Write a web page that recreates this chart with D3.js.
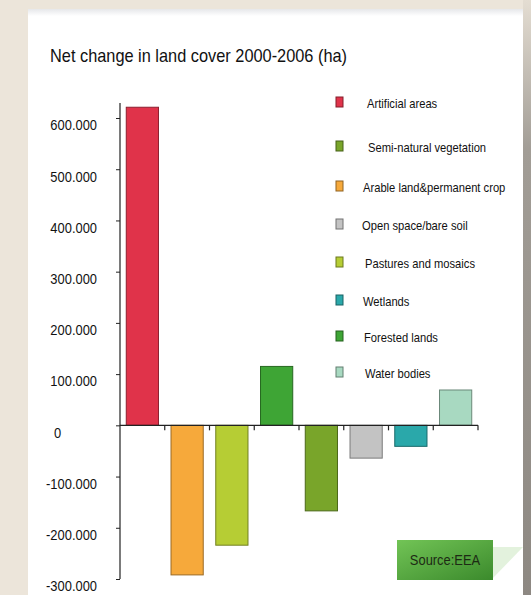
<!DOCTYPE html>
<html>
<head>
<meta charset="utf-8">
<script src="https://cdn.jsdelivr.net/npm/d3@7"></script>
<style>
  html, body { margin: 0; padding: 0; background: #ece5da; }
  svg { display: block; }
</style>
</head>
<body>
<div id="chart"></div>
<script>
// categories in bar order (left to right)
const categories = ["Artificial areas", "Arable land&permanent crop", "Pastures and mosaics",
  "Forested lands", "Semi-natural vegetation", "Open space/bare soil", "Wetlands", "Water bodies"];
// net change in ha
const values = [621000, -292000, -234000, 115000, -167000, -64000, -41000, 69000];
const colors = ["#e0334a", "#f6a93b", "#b6cd34", "#3ea535", "#79a52a", "#c3c3c3", "#2aa8aa", "#a8d9c1"];
// legend order as printed on the right
const legendOrder = ["Artificial areas", "Semi-natural vegetation", "Arable land&permanent crop",
  "Open space/bare soil", "Pastures and mosaics", "Wetlands", "Forested lands", "Water bodies"];
const yTicks = [600000, 500000, 400000, 300000, 200000, 100000, 0, -100000, -200000, -300000];
const yTickLabels = ["600.000", "500.000", "400.000", "300.000", "200.000", "100.000", "0",
  "-100.000", "-200.000", "-300.000"];
const title = "Net change in land cover 2000-2006 (ha)";
const source = "Source:EEA";

const W = 531, H = 595;
const font = "'Liberation Sans', Arial, sans-serif";
const squeeze = 0.86; // narrow the text like the original condensed face

const svg = d3.select("#chart").append("svg")
  .attr("width", W).attr("height", H);

const defs = svg.append("defs");
const shadow = defs.append("linearGradient").attr("id", "rshadow")
  .attr("x1", 0).attr("y1", 0).attr("x2", 0).attr("y2", 1);
shadow.append("stop").attr("offset", "0").attr("stop-color", "#e4ddd2");
shadow.append("stop").attr("offset", "0.25").attr("stop-color", "#a29d96");
shadow.append("stop").attr("offset", "1").attr("stop-color", "#8d8882");
const topg = defs.append("linearGradient").attr("id", "topg")
  .attr("x1", 0).attr("y1", 0).attr("x2", 0).attr("y2", 1);
topg.append("stop").attr("offset", "0").attr("stop-color", "#e6e7ea");
topg.append("stop").attr("offset", "1").attr("stop-color", "#ffffff");
const srcg = defs.append("linearGradient").attr("id", "srcg")
  .attr("x1", 0).attr("y1", 0).attr("x2", 1).attr("y2", 1);
srcg.append("stop").attr("offset", "0").attr("stop-color", "#72c456");
srcg.append("stop").attr("offset", "1").attr("stop-color", "#3b8a2c");

// background card
svg.append("rect").attr("x", 0).attr("y", 0).attr("width", W).attr("height", H).attr("fill", "#ece5da");
svg.append("rect").attr("x", 523).attr("y", 0).attr("width", 8).attr("height", H).attr("fill", "url(#rshadow)");
svg.append("rect").attr("x", 28).attr("y", 9).attr("width", 495).attr("height", H).attr("fill", "#fff");
svg.append("rect").attr("x", 28).attr("y", 9).attr("width", 495).attr("height", 7).attr("fill", "url(#topg)");

// title
svg.append("text").attr("x", 50).attr("y", 62)
  .attr("font-family", font).attr("font-size", 19).attr("fill", "#111")
  .text(title);

// scales
const x = d3.scaleBand().domain(categories).range([120, 478])
  .paddingInner(0.28).paddingOuter(0.14);
const y = d3.scaleLinear().domain([-300000, 600000]).range([579, 118]);
const color = d3.scaleOrdinal().domain(categories).range(colors);

const data = categories.map((c, i) => ({ cat: c, value: values[i] }));

// bars
svg.append("g").selectAll("rect").data(data).enter().append("rect")
  .attr("x", d => x(d.cat))
  .attr("width", x.bandwidth())
  .attr("y", d => y(Math.max(0, d.value)))
  .attr("height", d => Math.abs(y(d.value) - y(0)))
  .attr("fill", d => color(d.cat))
  .attr("stroke", d => d3.color(color(d.cat)).darker(1.3))
  .attr("stroke-width", 1);

// y axis
const yAxis = svg.append("g").attr("transform", "translate(120,0)")
  .call(d3.axisLeft(y).tickValues(yTicks).tickSize(4).tickPadding(19)
    .tickFormat((d, i) => yTickLabels[i]));
yAxis.select(".domain").remove();
yAxis.selectAll(".tick line").attr("stroke", "#222");
yAxis.selectAll(".tick text")
  .attr("font-family", font).attr("font-size", 15).attr("fill", "#111")
  .attr("dy", "0.32em")
  .attr("transform", "translate(0,7)")
  .filter(d => d === 0).attr("text-anchor", "start").attr("x", -66);
svg.append("line").attr("x1", 120).attr("x2", 120).attr("y1", 103).attr("y2", y(-300000))
  .attr("stroke", "#222").attr("stroke-width", 1.2);

// zero line with ticks between categories
svg.append("line").attr("x1", 120).attr("x2", 478).attr("y1", y(0)).attr("y2", y(0))
  .attr("stroke", "#222").attr("stroke-width", 1.2);
svg.append("g").selectAll("line").data(categories).enter().append("line")
  .attr("x1", d => x(d) + x.bandwidth() + x.step() * x.paddingInner() / 2)
  .attr("x2", d => x(d) + x.bandwidth() + x.step() * x.paddingInner() / 2)
  .attr("y1", y(0)).attr("y2", y(0) + 5)
  .attr("stroke", "#222").attr("stroke-width", 1.2);

// legend
const legendY = [103, 147, 187, 225, 263, 301, 337, 373];
const legendTextX = [367, 368, 363, 362, 365, 363, 364, 365];
const leg = svg.append("g").selectAll("g").data(legendOrder).enter().append("g")
  .attr("transform", (d, i) => `translate(0,${legendY[i]})`);
leg.append("rect").attr("x", 336).attr("y", -6).attr("width", 7).attr("height", 10)
  .attr("fill", d => color(d))
  .attr("stroke", d => d3.color(color(d)).darker(1.5)).attr("stroke-width", 1);
leg.append("text").attr("x", (d, i) => legendTextX[i]).attr("y", 0).attr("dy", "0.35em")
  .attr("font-family", font).attr("font-size", 13).attr("fill", "#111")
  .text(d => d);

// source badge
svg.append("polygon").attr("points", "493,547 523,547 493,578")
  .attr("fill", "#dcefd5").attr("opacity", 0.8);
svg.append("rect").attr("x", 397).attr("y", 540).attr("width", 96).attr("height", 40)
  .attr("fill", "url(#srcg)");
svg.append("text").attr("x", 445).attr("y", 560).attr("dy", "0.35em")
  .attr("text-anchor", "middle").attr("font-family", font).attr("font-size", 15).attr("fill", "#1d2a14")
  .text(source);

// condense all text horizontally
svg.selectAll("text").each(function () {
  const len = this.getComputedTextLength();
  d3.select(this).attr("textLength", len * squeeze).attr("lengthAdjust", "spacingAndGlyphs");
});
</script>
</body>
</html>
